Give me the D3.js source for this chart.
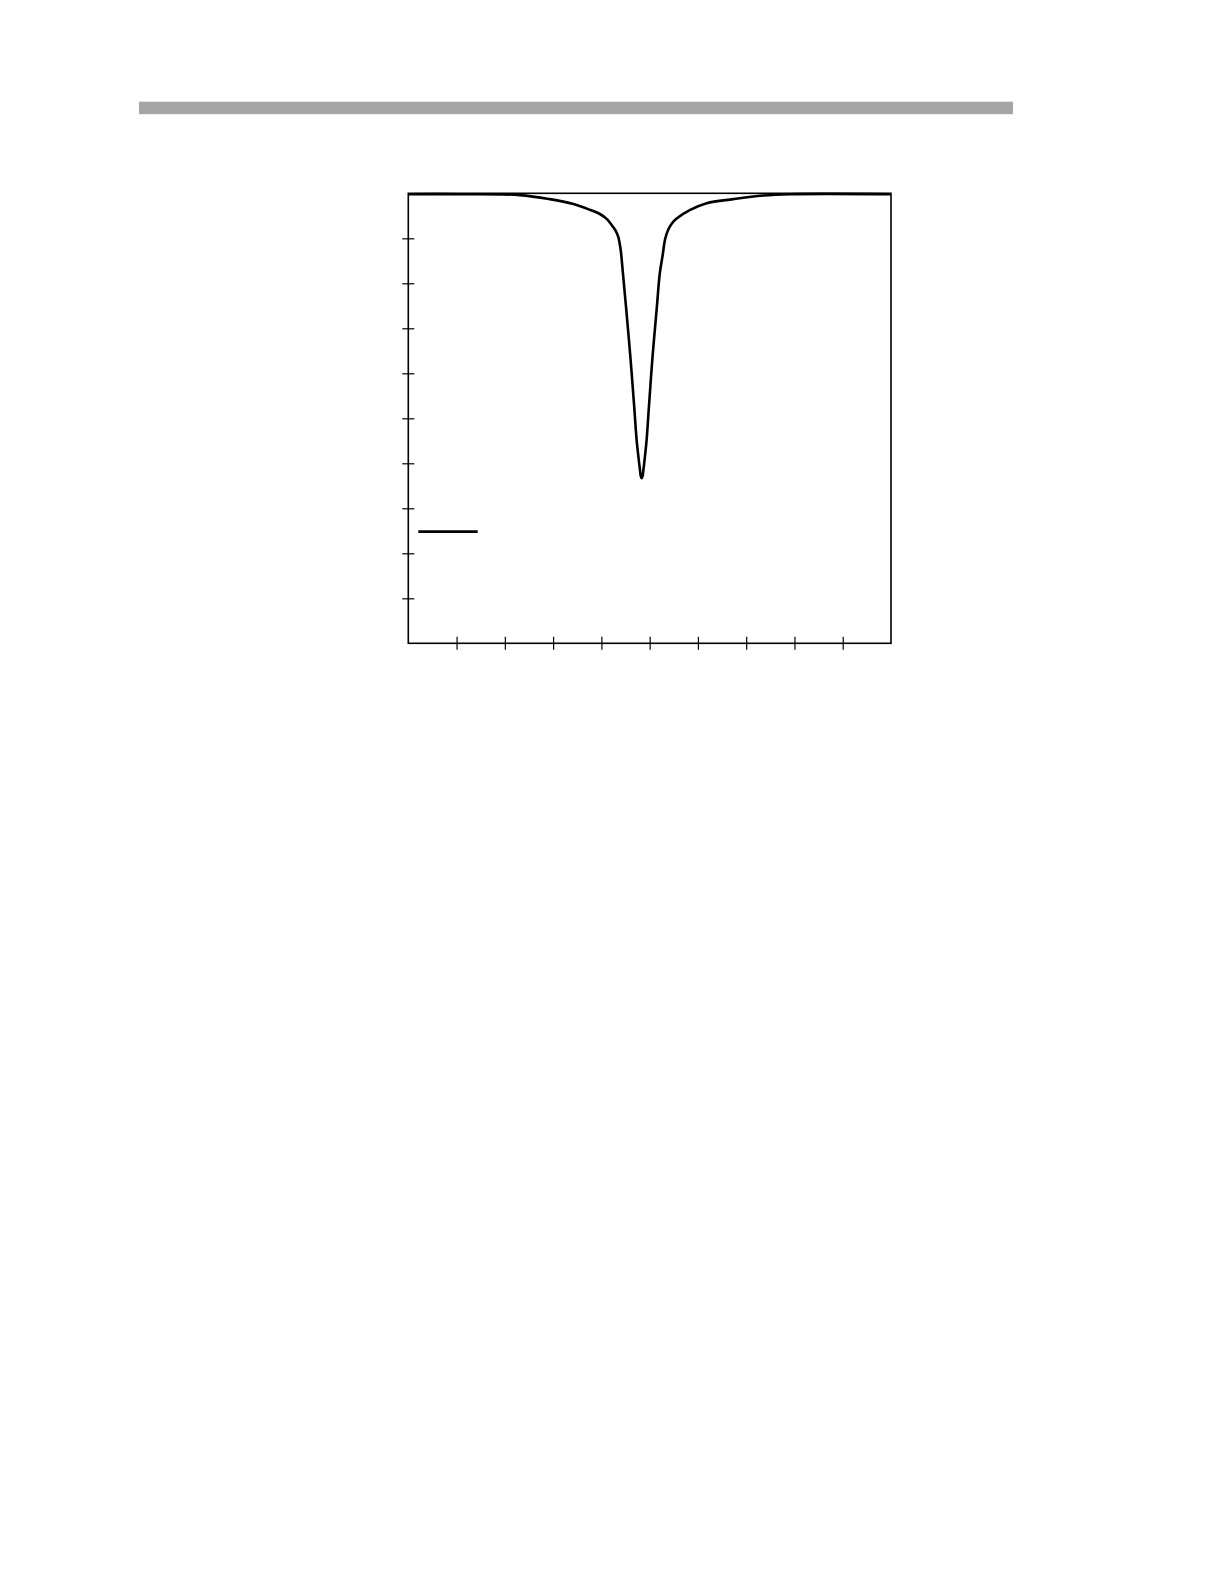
<!DOCTYPE html>
<html>
<head>
<meta charset="utf-8">
<script src="https://cdn.jsdelivr.net/npm/d3@7"></script>
<style>
  body { margin: 0; background: #fff; }
  svg { display: block; }
</style>
</head>
<body>
<svg id="chart"></svg>
<script>
// curve: x in tick units (0..10), y as fraction of full scale (0..1)
const xValues = [0, 1.07, 2.31, 2.93, 3.42, 3.77, 3.97, 4.12, 4.23, 4.30, 4.35, 4.40, 4.44, 4.51, 4.60, 4.68, 4.73, 4.783, 4.80, 4.815, 4.835,
                 4.855, 4.87, 4.887, 4.937, 4.985, 5.06, 5.15, 5.21, 5.27, 5.32, 5.38, 5.46, 5.56, 5.84, 6.18, 6.73, 7.35, 7.91, 10];
const yValues = [0.998, 0.998, 0.996, 0.987, 0.976, 0.963, 0.954, 0.942, 0.927, 0.916, 0.903, 0.874, 0.830, 0.748, 0.637, 0.526, 0.452, 0.400, 0.385, 0.372, 0.367,
                 0.372, 0.385, 0.400, 0.452, 0.526, 0.637, 0.748, 0.822, 0.863, 0.898, 0.918, 0.933, 0.944, 0.963, 0.978, 0.987, 0.995, 0.998, 0.998];
const xTicks = [1, 2, 3, 4, 5, 6, 7, 8, 9];
const yTicks = [0.1, 0.2, 0.3, 0.4, 0.5, 0.6, 0.7, 0.8, 0.9];

const data = xValues.map((x, i) => ({x: x, y: yValues[i]}));

const config = {
  width: 1224,
  height: 1584,
  margin: {top: 193.3, left: 408.3},
  plotWidth: 482.7,
  plotHeight: 450
};

const svg = d3.select('#chart')
    .attr('width', config.width)
    .attr('height', config.height);

// grey header rule
svg.append('rect')
    .attr('x', 139)
    .attr('y', 101.7)
    .attr('width', 874)
    .attr('height', 12.5)
    .attr('fill', '#a5a5a5');

const chart = svg.append('g')
    .attr('transform', `translate(${config.margin.left},${config.margin.top})`);

const xScale = d3.scaleLinear().domain([0, 10]).range([0, config.plotWidth]);
const yScale = d3.scaleLinear().domain([0, 1]).range([config.plotHeight, 0]);

// ticks cross the frame, so draw each axis twice (inner + outer)
const noLabel = () => '';
[d3.axisLeft, d3.axisRight].forEach(axisFn => {
  chart.append('g')
      .attr('class', 'axis y-axis')
      .call(axisFn(yScale).tickValues(yTicks).tickSize(6).tickSizeOuter(0).tickFormat(noLabel))
      .call(g => g.select('.domain').remove());
});
[d3.axisBottom, d3.axisTop].forEach(axisFn => {
  chart.append('g')
      .attr('class', 'axis x-axis')
      .attr('transform', `translate(0,${config.plotHeight})`)
      .call(axisFn(xScale).tickValues(xTicks).tickSize(6.5).tickSizeOuter(0).tickFormat(noLabel))
      .call(g => g.select('.domain').remove());
});
chart.selectAll('.tick line').attr('stroke', '#000').attr('stroke-width', 1.2);

// frame
chart.append('rect')
    .attr('width', config.plotWidth)
    .attr('height', config.plotHeight)
    .attr('fill', 'none')
    .attr('stroke', '#000')
    .attr('stroke-width', 1.6);

const line = d3.line()
    .x(d => xScale(d.x))
    .y(d => yScale(d.y))
    .curve(d3.curveCatmullRom.alpha(0.5));

chart.append('path')
    .datum(data)
    .attr('class', 'chart-line')
    .attr('d', line)
    .attr('fill', 'none')
    .attr('stroke', '#000')
    .attr('stroke-width', 2.6)
    .attr('stroke-linejoin', 'round');

// legend sample line
chart.append('line')
    .attr('x1', 10)
    .attr('x2', 69.4)
    .attr('y1', 338.4)
    .attr('y2', 338.4)
    .attr('stroke', '#000')
    .attr('stroke-width', 2.8);
</script>
</body>
</html>
